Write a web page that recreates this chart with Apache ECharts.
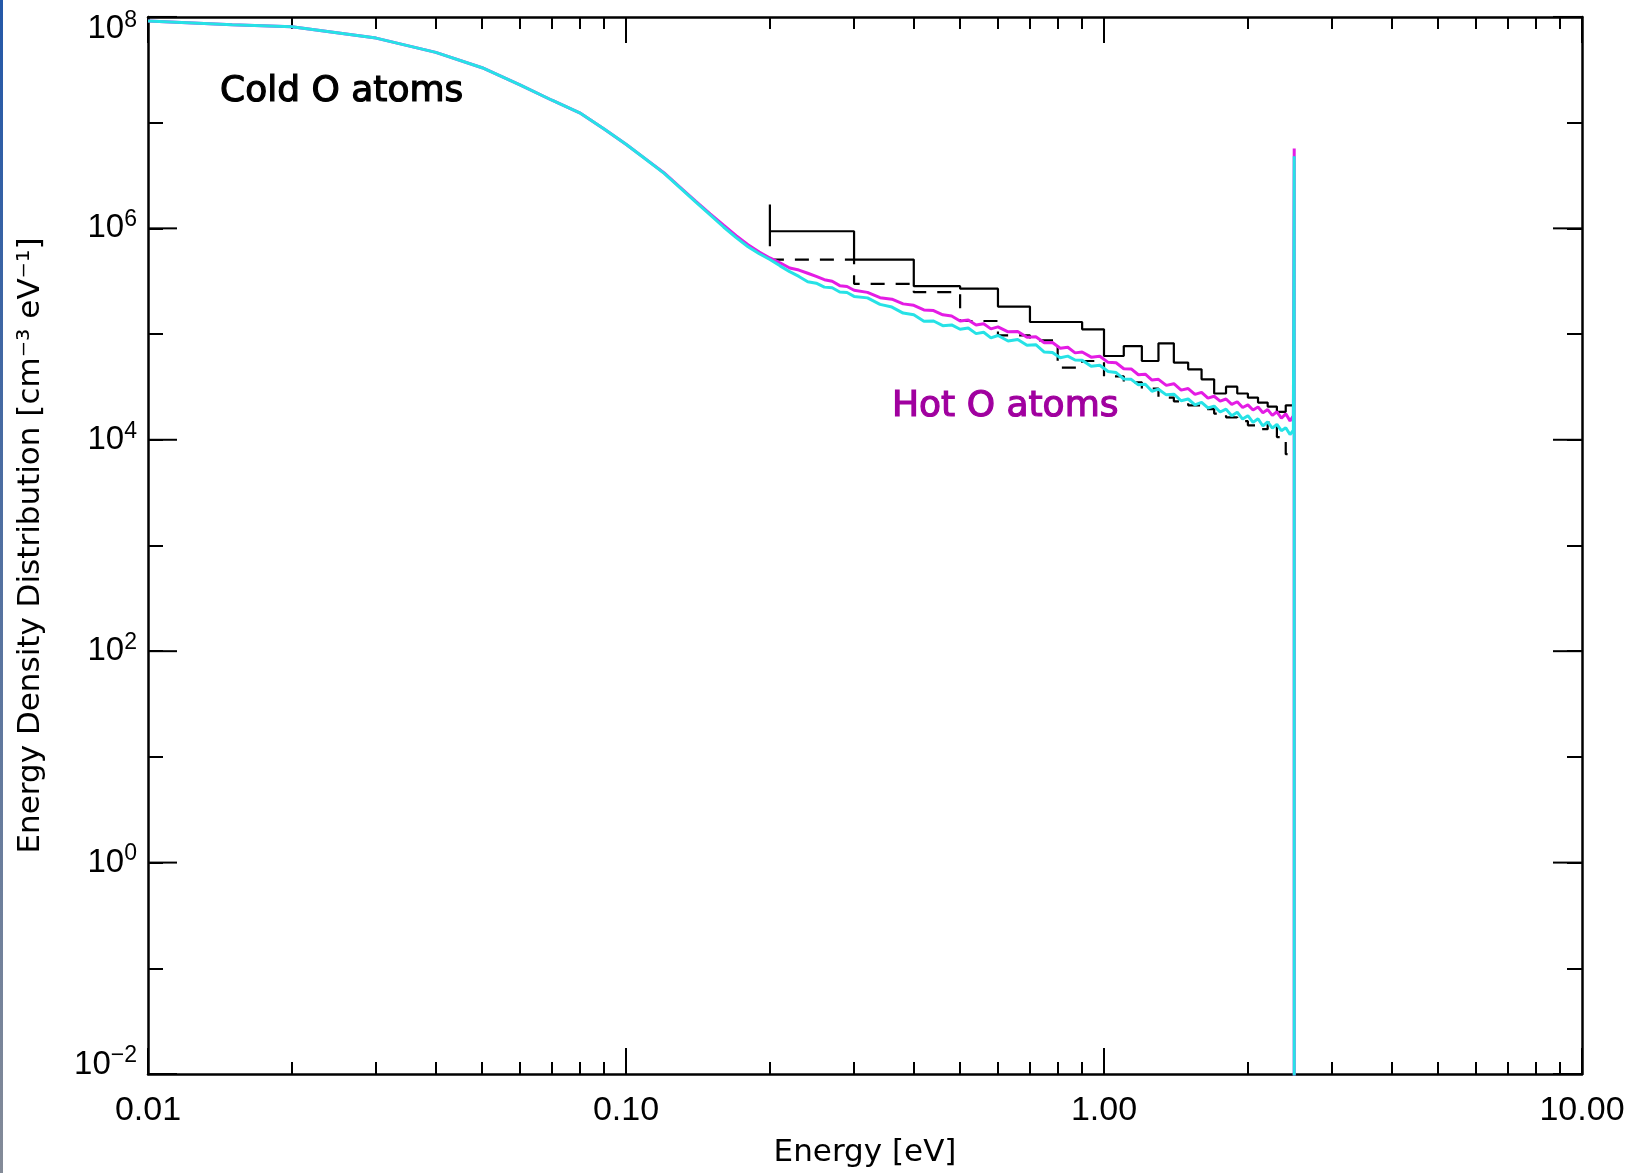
<!DOCTYPE html>
<html><head><meta charset="utf-8">
<script src="https://cdn.jsdelivr.net/npm/echarts@6/dist/echarts.min.js"></script>
<style>html,body{margin:0;padding:0;background:#fff}#c{width:1642px;height:1173px}</style>
</head><body><div id="c"></div>
<script>
// ---- data ----
const xAxisMin = 0.01, xAxisMax = 10;
const yAxisMin = 0.01, yAxisMax = 9.99e7;   // top of the frame (10^8)
const xTickLabels = ['0.01', '0.10', '1.00', '10.00'];
const yLabelledDecades = [1e-2, 1e0, 1e2, 1e4, 1e6, 1e8];

const energy = [0.010,0.015,0.020,0.030,0.040,0.050,0.060,0.070,0.080,0.090,0.100,0.110,0.120,0.130,0.140,0.150,0.160,0.170,0.180,0.190,
  0.20,0.21,0.22,0.23,0.24,0.25,0.26,0.27,0.28,0.29,0.30,
  0.32,0.34,0.36,0.38,0.40,0.42,0.44,0.46,0.48,0.50,0.52,0.54,0.56,0.58,0.60,
  0.63,0.66,0.69,0.72,0.75,0.78,0.81,0.84,0.87,0.90,
  0.94,0.98,1.02,1.06,1.10,1.14,1.18,1.22,1.26,1.30,
  1.35,1.40,1.45,1.50,1.55,1.60,1.65,1.70,1.75,1.80,1.85,1.90,1.95,2.00,2.05,2.10,2.15,2.20,2.25,2.30,2.35,2.40,2.45,
  2.49];

const cyanDensity = [9.16e7,8.46e7,8.09e7,6.31e7,4.62e7,3.31e7,2.28e7,1.63e7,1.24e7,8.71e6,6.25e6,4.50e6,3.33e6,2.40e6,1.77e6,1.34e6,1.03e6,8.18e5,6.70e5,5.75e5,
  5.07e5,4.42e5,3.89e5,3.51e5,3.13e5,3.03e5,2.78e5,2.74e5,2.50e5,2.47e5,2.27e5,
  2.20e5,1.91e5,1.80e5,1.58e5,1.52e5,1.32e5,1.33e5,1.20e5,1.22e5,1.11e5,1.14e5,1.01e5,1.04e5,9.2e4,9.7e4,
  8.6e4,8.9e4,7.85e4,7.94e4,6.76e4,6.68e4,5.96e4,6.19e4,5.69e4,5.65e4,
  4.95e4,5.07e4,4.42e4,4.32e4,3.76e4,3.73e4,3.31e4,3.35e4,2.88e4,3.01e4,
  2.66e4,2.70e4,2.34e4,2.43e4,2.14e4,2.26e4,2.00e4,2.08e4,1.83e4,1.95e4,1.69e4,1.82e4,1.57e4,1.69e4,1.46e4,1.58e4,1.35e4,1.48e4,1.29e4,1.40e4,1.22e4,1.30e4,1.12e4,
  1.23e4];

const magentaDensity = [9.16e7,8.46e7,8.09e7,6.31e7,4.62e7,3.31e7,2.28e7,1.63e7,1.24e7,8.71e6,6.25e6,4.52e6,3.36e6,
  2.43e6,1.80e6,1.37e6,1.07e6,8.51e5,7.0e5,5.96e5,
  5.25e5,4.73e5,4.22e5,4.03e5,3.76e5,3.51e5,3.27e5,3.16e5,2.87e5,2.82e5,2.60e5,
  2.48e5,2.21e5,2.14e5,1.93e5,1.87e5,1.69e5,1.67e5,1.52e5,1.48e5,1.33e5,1.36e5,1.22e5,1.25e5,1.12e5,1.17e5,
  1.05e5,1.06e5,9.33e4,9.44e4,8.28e4,8.32e4,7.33e4,7.50e4,6.64e4,6.76e4,
  6.05e4,6.17e4,5.40e4,5.35e4,4.70e4,4.68e4,4.12e4,4.17e4,3.67e4,3.73e4,
  3.27e4,3.39e4,2.95e4,3.05e4,2.69e4,2.81e4,2.48e4,2.58e4,2.32e4,2.43e4,2.16e4,2.29e4,2.02e4,2.14e4,1.91e4,2.04e4,1.80e4,1.93e4,1.70e4,1.84e4,1.60e4,1.76e4,1.51e4,
  1.68e4];

const sourceEnergy = 2.5;
const cyanSpike = [4.8e6, 1e-3];
const magentaSpike = [5.7e6, 1e-3];

const binEdges = [0.2,0.3,0.4,0.5,0.6,0.7,0.8,0.9,1.0,1.1,1.2,1.3,1.4,1.5,1.6,1.7,1.8,1.9,2.0,2.1,2.2,2.3,2.4,2.5];
const solidHist = [9.39e5,5.07e5,2.84e5,2.69e5,1.82e5,1.30e5,1.30e5,1.11e5,6.2e4,7.7e4,5.56e4,8.17e4,5.37e4,4.64e4,3.73e4,2.74e4,3.18e4,2.74e4,2.51e4,2.25e4,2.06e4,1.84e4,2.12e4];
const solidHistStart = [1.68e6, 6.78e5];
const dashedHist = [5.07e5,2.99e5,2.49e5,1.33e5,9.73e4,8.71e4,4.82e4,5.56e4,3.98e4,3.5e4,3.05e4,2.51e4,2.31e4,2.12e4,1.95e4,1.77e4,1.63e4,1.5e4,1.37e4,1.26e4,1.46e4,1.06e4,7.3e3];

// ---- build series data ----
function pairs(xs, ys) { return xs.map((x, i) => [x, ys[i]]); }
function histPath(edges, vals, start) {
  const out = [];
  if (start) start.forEach(v => out.push([edges[0], v]));
  vals.forEach((v, i) => { out.push([edges[i], v]); out.push([edges[i + 1], v]); });
  return out;
}
const cyanData = pairs(energy, cyanDensity).concat(cyanSpike.map(v => [sourceEnergy, v]));
const magentaData = pairs(energy, magentaDensity).concat(magentaSpike.map(v => [sourceEnergy, v]));

const labelFont = 'Liberation Sans';
const titleFont = 'DejaVu Sans';

function xLabel(v) {
  const i = Math.round(Math.log10(v) - Math.log10(xAxisMin));
  return xTickLabels[i] !== undefined ? xTickLabels[i] : '';
}
const topExp = Math.round(Math.log10(yAxisMax)), botExp = Math.round(Math.log10(yAxisMin));
function yLabel(v) {
  const e = Math.round(Math.log10(v));
  if (e % 2 !== 0) return '';
  const s = String(e).replace('-', '\u2212');
  if (e >= topExp) return '{at|10}{st|' + s + '}';
  if (e <= botExp) return '{ab|10}{sb|' + s + '}';
  return '{a|10}{s|' + s + '}';
}
const axisLineStyle = { color: '#000', width: 2.5 };
const tickStyle = { color: '#000', width: 2 };

const xBase = {
  type: 'log', logBase: 10, min: xAxisMin, max: xAxisMax,
  axisLine: { show: true, onZero: false, lineStyle: axisLineStyle },
  axisTick: { show: true, inside: true, length: 26, lineStyle: tickStyle },
  minorTick: { show: true, splitNumber: 9, length: 12, lineStyle: tickStyle },
  splitLine: { show: false }, minorSplitLine: { show: false }
};
const yBase = {
  type: 'log', logBase: 10, min: yAxisMin, max: yAxisMax, splitNumber: 10,
  axisLine: { show: true, onZero: false, lineStyle: axisLineStyle },
  axisTick: { show: true, inside: true, length: 15, lineStyle: tickStyle },
  splitLine: { show: false }, minorSplitLine: { show: false }
};

const chart = echarts.init(document.getElementById('c'), null, { renderer: 'canvas' });
chart.setOption({
  animation: false,
  backgroundColor: '#fff',
  grid: { left: 148, right: 60, top: 17, bottom: 97, containLabel: false },
  xAxis: [
    Object.assign({}, xBase, {
      position: 'bottom',
      name: 'Energy [eV]', nameLocation: 'middle', nameGap: 63,
      nameTextStyle: { fontFamily: titleFont, fontSize: 31, color: '#000' },
      axisLabel: { show: true, formatter: xLabel, fontFamily: labelFont, fontSize: 34, color: '#000', margin: 20, hideOverlap: false, showMinLabel: true, showMaxLabel: true }
    }),
    Object.assign({}, xBase, { position: 'top', axisLabel: { show: false } })
  ],
  yAxis: [
    Object.assign({}, yBase, {
      position: 'left',
      name: 'Energy Density Distribution [cm\u207B\u00B3 eV\u207B\u00B9]', nameLocation: 'middle', nameGap: 102, nameRotate: 90,
      nameTextStyle: { fontFamily: titleFont, fontSize: 31, color: '#000' },
      axisLabel: {
        show: true, formatter: yLabel, margin: 11, hideOverlap: false, showMinLabel: true, showMaxLabel: true,
        rich: {
          a: { fontFamily: labelFont, fontSize: 33, color: '#000' },
          s: { fontFamily: labelFont, fontSize: 23, color: '#000', padding: [0, 0, 17, 0] },
          at: { fontFamily: labelFont, fontSize: 33, color: '#000', padding: [24, 0, 0, 0] },
          st: { fontFamily: labelFont, fontSize: 23, color: '#000', padding: [7, 0, 0, 0] },
          ab: { fontFamily: labelFont, fontSize: 33, color: '#000', padding: [0, 0, 19, 0] },
          sb: { fontFamily: labelFont, fontSize: 23, color: '#000', padding: [0, 0, 36, 0] }
        }
      }
    }),
    Object.assign({}, yBase, { position: 'right', axisLabel: { show: false } })
  ],
  series: [
    { name: 'Solid histogram', type: 'line', xAxisIndex: 0, yAxisIndex: 0, data: histPath(binEdges, solidHist, solidHistStart),
      showSymbol: false, symbol: 'none', clip: true, lineStyle: { color: '#000', width: 2.2 }, z: 2 },
    { name: 'Dashed histogram', type: 'line', xAxisIndex: 0, yAxisIndex: 0, data: histPath(binEdges, dashedHist),
      showSymbol: false, symbol: 'none', clip: true, lineStyle: { color: '#000', width: 2.2, type: [14, 11] }, z: 3 },
    { name: 'Magenta', type: 'line', xAxisIndex: 0, yAxisIndex: 0, data: magentaData,
      showSymbol: false, symbol: 'none', clip: true, lineStyle: { color: '#e41ce4', width: 3 }, z: 4 },
    { name: 'Cyan', type: 'line', xAxisIndex: 0, yAxisIndex: 0, data: cyanData,
      showSymbol: false, symbol: 'none', clip: true, lineStyle: { color: '#26e2e6', width: 3 }, z: 5 },
    { name: 'Labelled decade ticks', type: 'custom', xAxisIndex: 0, yAxisIndex: 0, clip: false, silent: true, z: 6,
      data: yLabelledDecades.map(v => [xAxisMin, v]),
      renderItem: function (params, api) {
        const v = api.value(1);
        const pL = api.coord([xAxisMin, v]);
        const pR = api.coord([xAxisMax, v]);
        const st = { stroke: '#000', lineWidth: 2 };
        return { type: 'group', children: [
          { type: 'line', shape: { x1: pL[0], y1: pL[1], x2: pL[0] + 29, y2: pL[1] }, style: st },
          { type: 'line', shape: { x1: pR[0] - 29, y1: pR[1], x2: pR[0], y2: pR[1] }, style: st }
        ] };
      }
    }
  ],
  graphic: [
    { type: 'rect', shape: { x: 0, y: 0, width: 3, height: 1173 }, silent: true,
      style: { fill: new echarts.graphic.LinearGradient(0, 0, 0, 1, [{ offset: 0, color: '#2458a8' }, { offset: 1, color: '#848b98' }]) } },
    { type: 'text', x: 220, y: 92, silent: true,
      style: { text: 'Cold O atoms', fontFamily: titleFont, fontSize: 36, fill: '#000', stroke: '#000', lineWidth: 1.2, align: 'left', verticalAlign: 'middle' } },
    { type: 'text', x: 892, y: 407, silent: true,
      style: { text: 'Hot O atoms', fontFamily: titleFont, fontSize: 36, fill: '#a0009f', stroke: '#a0009f', lineWidth: 1.2, align: 'left', verticalAlign: 'middle' } }
  ]
});
</script>
</body></html>
